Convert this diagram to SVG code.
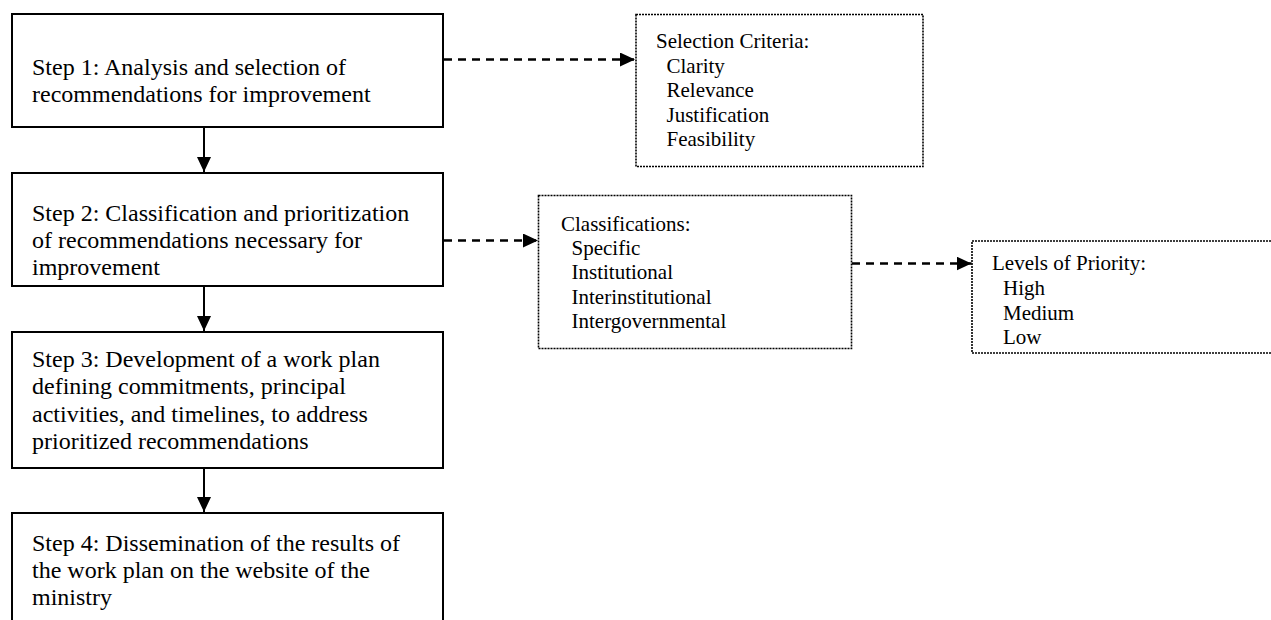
<svg xmlns="http://www.w3.org/2000/svg" width="1271" height="620" viewBox="0 0 1271 620">
<defs>
<style>
.step{fill:#fff;stroke:#000;stroke-width:2}
.dot{fill:#fff;stroke:#000;stroke-width:1.6;stroke-dasharray:2 1}
.t{font-family:"Liberation Serif","Times New Roman",serif;font-size:24px;fill:#000}
.s{font-family:"Liberation Serif","Times New Roman",serif;font-size:21px;fill:#000}
.solid{stroke:#000;stroke-width:2;fill:none}
.dash{stroke:#000;stroke-width:2.3;fill:none;stroke-dasharray:8 6}
</style>
<marker id="ah" markerUnits="userSpaceOnUse" markerWidth="15" markerHeight="14" refX="15" refY="7" orient="auto">
<path d="M0,0 L15,7 L0,14 z" fill="#000"/>
</marker>
</defs>
<rect width="1271" height="620" fill="#fff"/>
<g id="connectors">
<line class="solid" x1="204" y1="127" x2="204" y2="172" marker-end="url(#ah)"/>
<line class="solid" x1="204" y1="286" x2="204" y2="331" marker-end="url(#ah)"/>
<line class="solid" x1="204" y1="468" x2="204" y2="512" marker-end="url(#ah)"/>
<line class="dash" x1="444" y1="59.5" x2="635" y2="59.5" marker-end="url(#ah)"/>
<line class="dash" x1="444" y1="240.5" x2="538" y2="240.5" marker-end="url(#ah)"/>
<line class="dash" x1="852" y1="263.5" x2="971.5" y2="263.5" marker-end="url(#ah)"/>
</g>
<g id="step1">
<rect class="step" x="12" y="14" width="431" height="113"/>
<text class="t" x="32" y="74.5">Step 1: Analysis and selection of</text>
<text class="t" x="32" y="101.5">recommendations for improvement</text>
</g>
<g id="step2">
<rect class="step" x="12" y="173" width="431" height="113"/>
<text class="t" x="32" y="221">Step 2: Classification and prioritization</text>
<text class="t" x="32" y="248">of recommendations necessary for</text>
<text class="t" x="32" y="275">improvement</text>
</g>
<g id="step3">
<rect class="step" x="12" y="332" width="431" height="136"/>
<text class="t" x="32" y="366.5">Step 3: Development of a work plan</text>
<text class="t" x="32" y="394">defining commitments, principal</text>
<text class="t" x="32" y="421.5">activities, and timelines, to address</text>
<text class="t" x="32" y="449">prioritized recommendations</text>
</g>
<g id="step4">
<rect class="step" x="12" y="513" width="431" height="130"/>
<text class="t" x="32" y="550.5">Step 4: Dissemination of the results of</text>
<text class="t" x="32" y="577.5">the work plan on the website of the</text>
<text class="t" x="32" y="604.5">ministry</text>
</g>
<g id="selection-criteria">
<rect class="dot" x="636" y="14.5" width="287" height="152"/>
<text class="s" x="656" y="48">Selection Criteria:</text>
<text class="s" x="666.5" y="72.5">Clarity</text>
<text class="s" x="666.5" y="97">Relevance</text>
<text class="s" x="666.5" y="121.5">Justification</text>
<text class="s" x="666.5" y="146">Feasibility</text>
</g>
<g id="classifications">
<rect class="dot" x="538.5" y="195.5" width="313" height="153"/>
<text class="s" x="561" y="230.5">Classifications:</text>
<text class="s" x="571.5" y="255">Specific</text>
<text class="s" x="571.5" y="279">Institutional</text>
<text class="s" x="571.5" y="303.5">Interinstitutional</text>
<text class="s" x="571.5" y="328">Intergovernmental</text>
</g>
<g id="levels-of-priority">
<rect class="dot" x="972" y="241" width="320" height="112"/>
<text class="s" x="992" y="270">Levels of Priority:</text>
<text class="s" x="1003" y="295">High</text>
<text class="s" x="1003" y="319.5">Medium</text>
<text class="s" x="1003" y="343.5">Low</text>
</g>
</svg>
